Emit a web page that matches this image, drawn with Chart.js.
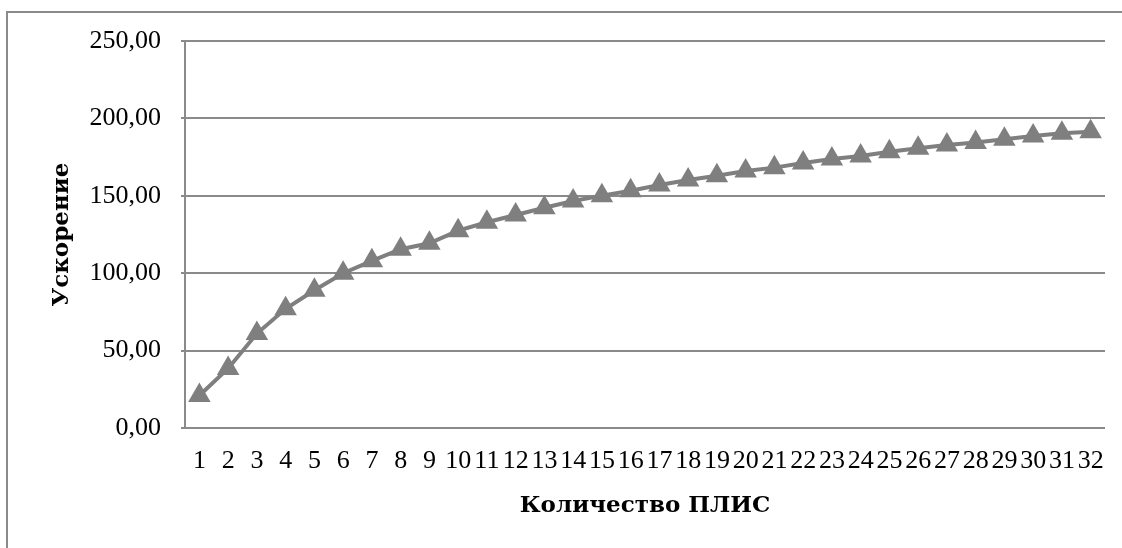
<!DOCTYPE html>
<html lang="ru">
<head>
<meta charset="utf-8">
<title>Ускорение</title>
<script src="https://cdn.jsdelivr.net/npm/chart.js@4/dist/chart.umd.min.js"></script>
<style>
    html, body { margin: 0; padding: 0; background: #fff; }
    #wrap { position: relative; width: 1122px; height: 548px; overflow: hidden; }
    #rama {
        position: absolute; left: 6px; top: 11px; width: 1200px; height: 600px;
        border-left: 2px solid #8a8a8a; border-top: 2px solid #8a8a8a;
        pointer-events: none;
    }
    canvas { position: absolute; left: 0; top: 0; }
</style>
</head>
<body>
<div id="wrap">
    <canvas id="grafik" width="1122" height="548"></canvas>
    <div id="rama"></div>
</div>
<script>
// Количество ПЛИС (категории оси X)
const kolichestvo = [
    '1', '2', '3', '4', '5', '6', '7', '8', '9', '10', '11', '12', '13', '14', '15', '16',
    '17', '18', '19', '20', '21', '22', '23', '24', '25', '26', '27', '28', '29', '30', '31', '32',
];

// Ускорение
const uskorenie = [
    21.0, 38.5, 61.0, 77.0, 89.0, 100.0, 108.0, 115.5, 119.3, 127.5, 132.9, 137.6, 142.3, 146.6, 150.1, 153.3,
    157.0, 160.2, 163.0, 166.0, 168.2, 171.2, 173.8, 175.7, 178.5, 180.7, 182.8, 184.5, 186.5, 188.6, 190.4, 191.4,
];

// Деления оси Y и их подписи
const yDeleniya = [0, 50, 100, 150, 200, 250];
const yPodpisi = ['0,00', '50,00', '100,00', '150,00', '200,00', '250,00'];

const seryi = '#7f7f7f';
const setka = '#8a8a8a';
const shrift = '"Liberation Serif", "DejaVu Serif", serif';
const shriftZag = '"DejaVu Serif", "Liberation Serif", serif';
const slevaDoZag = 48;

new Chart(document.getElementById('grafik'), {
    type: 'line',
    data: {
        labels: kolichestvo,
        datasets: [{
            label: 'Ускорение',
            data: uskorenie,
            borderColor: seryi,
            backgroundColor: seryi,
            borderWidth: 4,
            pointStyle: 'triangle',
            pointRadius: 13,
            pointBorderWidth: 0,
            pointBackgroundColor: seryi,
            tension: 0,
        }],
    },
    options: {
        responsive: false,
        animation: false,
        devicePixelRatio: 1,
        layout: { padding: { left: slevaDoZag, top: 41, right: 17, bottom: 0 } },
        plugins: { legend: { display: false }, tooltip: { enabled: false } },
        scales: {
            x: {
                offset: true,
                grid: { display: false, drawTicks: false, offset: true },
                border: { display: false },
                ticks: {
                    color: '#000', padding: 18, maxRotation: 0, autoSkip: false,
                    font: { family: shrift, size: 26 },
                },
                title: {
                    display: true, text: 'Количество ПЛИС', color: '#000',
                    font: { family: shriftZag, size: 23, weight: 'bold' },
                    padding: { top: 0, bottom: 28 },
                },
                afterFit: (s) => { s.height = 120; },
            },
            y: {
                min: 0, max: 250,
                afterBuildTicks: (s) => { s.ticks = yDeleniya.map((v) => ({ value: v })); },
                grid: { color: setka, lineWidth: 2, tickLength: 4, tickColor: setka },
                border: { display: true, color: setka, width: 2 },
                ticks: {
                    color: '#000', padding: 20,
                    font: { family: shrift, size: 26 },
                    callback: (v) => yPodpisi[yDeleniya.indexOf(v)],
                },
                title: {
                    display: true, text: 'Ускорение', color: '#000',
                    font: { family: shriftZag, size: 23, weight: 'bold' },
                    padding: { top: 0, bottom: 0 },
                },
                afterFit: (s) => { s.width = 185 - slevaDoZag; },
            },
        },
    },
});
</script>
</body>
</html>
